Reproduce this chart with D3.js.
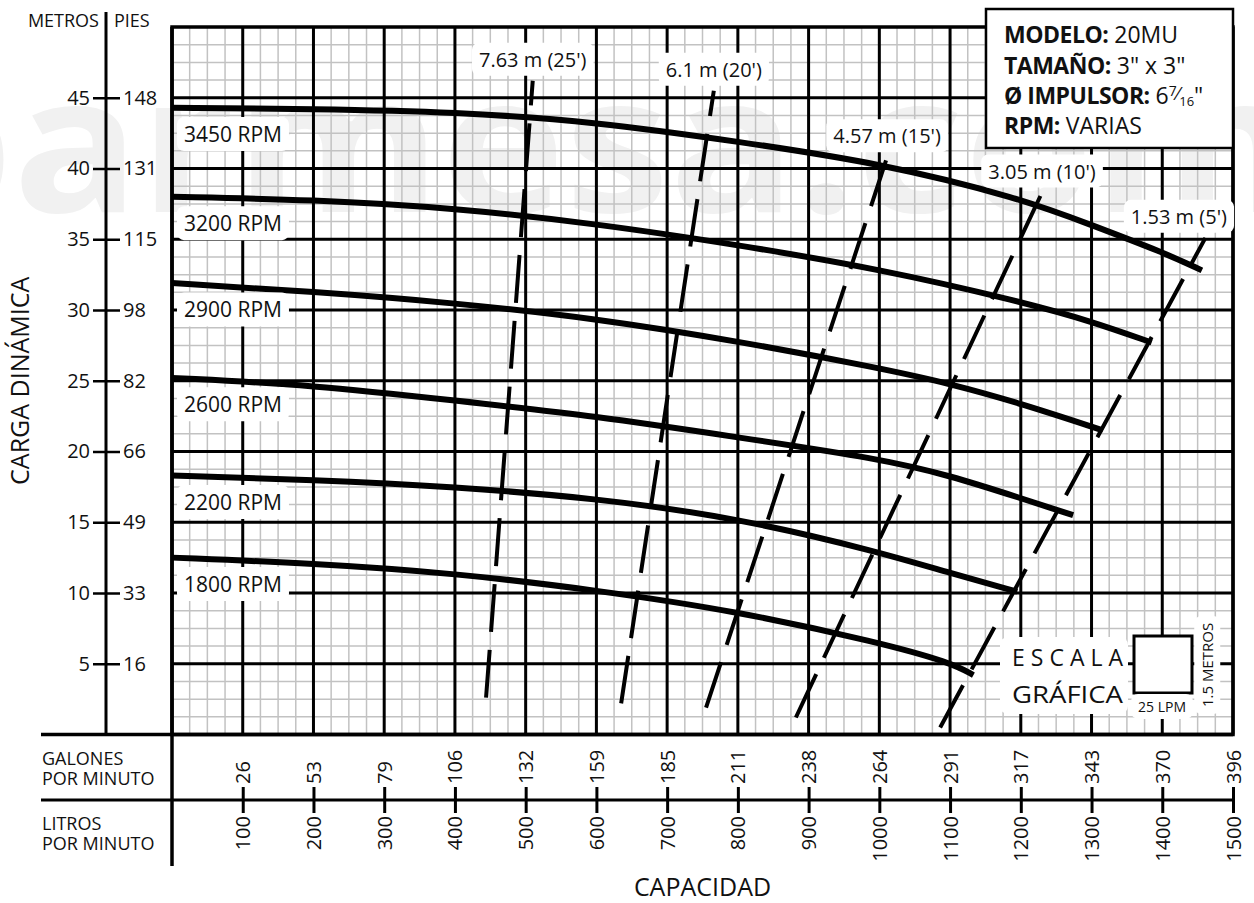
<!DOCTYPE html>
<html>
<head>
<meta charset="utf-8">
<script src="https://cdn.jsdelivr.net/npm/d3@7"></script>
<style>
  body { margin: 0; background: #fff; }
  text { font-family: "Open Sans", sans-serif; fill: #111; }
</style>
</head>
<body>
<svg id="chart" width="1254" height="903"></svg>
<script>
// ---- data ----
var lpmTicks = [100, 200, 300, 400, 500, 600, 700, 800, 900, 1000, 1100, 1200, 1300, 1400, 1500]
var gpmLabels = [26, 53, 79, 106, 132, 159, 185, 211, 238, 264, 291, 317, 343, 370, 396]
var metrosTicks = [5, 10, 15, 20, 25, 30, 35, 40, 45]
var piesLabels = [16, 33, 49, 66, 82, 98, 115, 131, 148]

var rpmNames = ["3450 RPM", "3200 RPM", "2900 RPM", "2600 RPM", "2200 RPM", "1800 RPM"]
// [litros por minuto, metros]
var rpm3450 = [[0, 44.3], [200, 44.2], [400, 44.0], [600, 43.3], [800, 41.9], [1000, 40.4], [1200, 37.9], [1300, 36.0], [1400, 34.1], [1456, 32.8]]
var rpm3200 = [[0, 38.0], [200, 37.8], [400, 37.2], [600, 36.1], [800, 34.6], [1000, 32.9], [1200, 30.6], [1300, 29.2], [1385, 27.7]]
var rpm2900 = [[0, 31.9], [200, 31.3], [400, 30.5], [600, 29.4], [800, 27.8], [1000, 25.9], [1100, 24.8], [1200, 23.4], [1316, 21.5]]
var rpm2600 = [[0, 25.2], [200, 24.7], [400, 23.6], [600, 22.5], [800, 21.0], [1000, 19.5], [1100, 18.3], [1200, 16.7], [1274, 15.5]]
var rpm2200 = [[0, 18.3], [200, 18.0], [400, 17.5], [600, 16.7], [800, 15.3], [1000, 12.9], [1100, 11.4], [1195, 10.1]]
var rpm1800 = [[0, 12.5], [200, 12.1], [400, 11.4], [600, 10.2], [800, 8.7], [1000, 6.5], [1100, 5.1], [1133, 4.2]]
var rpmCurves = [rpm3450, rpm3200, rpm2900, rpm2600, rpm2200, rpm1800]

var npshNames = ["7.63 m (25')", "6.1 m (20')", "4.57 m (15')", "3.05 m (10')", "1.53 m (5')"]
// each line: [bottom point, top point]
var npshLines = [
    [[444, 2.6], [510, 46.2]],
    [[635, 2.2], [766, 45.5]],
    [[755, 1.9], [1011, 40.8]],
    [[882, 1.2], [1230, 38.3]],
    [[1086, 0.5], [1461, 35.1]]
]

// ---- layout ----
var svg = d3.select("#chart")
var plotLeft = 172, plotRight = 1233, plotTop = 27, plotBottom = 734.5
var axisX = 106      // metros | pies line
var rowY = 800       // galones / litros divider

var xScale = d3.scaleLinear().domain([0, 1500]).range([plotLeft, plotRight])
var yScale = d3.scaleLinear().domain([0, 50]).range([plotBottom, plotTop])

// faint watermark behind everything
svg.append("text")
    .attr("x", -120).attr("y", 212)
    .attr("textLength", 1420)
    .attr("lengthAdjust", "spacingAndGlyphs")
    .style("font-size", "190px").style("font-weight", 700)
    .style("fill", "#f1f1f1")
    .text("barmesa.com")

// minor grid
var minorX = d3.range(0, 1501, 25)
var minorY = d3.range(0, 50.01, 1.25)
var grid = svg.append("g")
grid.selectAll(".minX").data(minorX).enter().append("line")
    .attr("x1", d => xScale(d)).attr("x2", d => xScale(d))
    .attr("y1", plotTop).attr("y2", plotBottom)
    .attr("stroke", "#c2c2c2").attr("stroke-width", 1.5)
grid.selectAll(".minY").data(minorY).enter().append("line")
    .attr("x1", plotLeft).attr("x2", plotRight)
    .attr("y1", d => yScale(d)).attr("y2", d => yScale(d))
    .attr("stroke", "#c2c2c2").attr("stroke-width", 1.5)

// major grid
grid.selectAll(".majX").data(lpmTicks).enter().append("line")
    .attr("x1", d => xScale(d)).attr("x2", d => xScale(d))
    .attr("y1", plotTop).attr("y2", plotBottom)
    .attr("stroke", "#000").attr("stroke-width", 3)
grid.selectAll(".majY").data(metrosTicks).enter().append("line")
    .attr("x1", plotLeft).attr("x2", plotRight)
    .attr("y1", d => yScale(d)).attr("y2", d => yScale(d))
    .attr("stroke", "#000").attr("stroke-width", 3)

// border of the plot
svg.append("rect")
    .attr("x", plotLeft).attr("y", plotTop)
    .attr("width", plotRight - plotLeft).attr("height", plotBottom - plotTop)
    .attr("fill", "none").attr("stroke", "#000").attr("stroke-width", 3.5)

// frame lines of the bottom table
svg.append("line").attr("x1", 41).attr("x2", plotRight).attr("y1", plotBottom).attr("y2", plotBottom)
    .attr("stroke", "#000").attr("stroke-width", 3.5)
svg.append("line").attr("x1", 41).attr("x2", plotRight).attr("y1", rowY).attr("y2", rowY)
    .attr("stroke", "#000").attr("stroke-width", 3)
svg.append("line").attr("x1", plotLeft).attr("x2", plotLeft).attr("y1", plotTop).attr("y2", 866)
    .attr("stroke", "#000").attr("stroke-width", 3.5)

// ---- NPSH dashed lines ----
var lineGen = d3.line().x(d => xScale(d[0])).y(d => yScale(d[1]))
svg.append("g").selectAll("path").data(npshLines).enter().append("path")
    .attr("d", lineGen)
    .attr("fill", "none").attr("stroke", "#000")
    .attr("stroke-width", 4).attr("stroke-dasharray", "48 18")

// ---- RPM curves ----
var curveGen = d3.line().x(d => xScale(d[0])).y(d => yScale(d[1])).curve(d3.curveBasis)
svg.append("g").selectAll("path").data(rpmCurves).enter().append("path")
    .attr("d", curveGen)
    .attr("fill", "none").attr("stroke", "#000").attr("stroke-width", 6)

// label with a white box behind it
function boxedLabel(parent, x, y, txt, size, anchor) {
    var g = parent.append("g")
    var r = g.append("rect").attr("fill", "#fff").attr("rx", 7)
    var t = g.append("text")
        .attr("x", x).attr("y", y)
        .attr("dy", "0.35em")
        .attr("text-anchor", anchor || "start")
        .style("font-size", size + "px")
        .text(txt)
    var b = t.node().getBBox()
    r.attr("x", b.x - 7).attr("y", b.y - 3).attr("width", b.width + 14).attr("height", b.height + 6)
    return t
}

var labels = svg.append("g")
rpmCurves.forEach((c, i) => {
    boxedLabel(labels, plotLeft + 12, yScale(c[0][1]) + 27, rpmNames[i], 21)
})
npshLines.forEach((l, i) => {
    var tx = xScale(l[1][0]), ty = yScale(l[1][1]) - 21
    var t = boxedLabel(labels, tx, ty, npshNames[i], 20, "middle")
    var w = t.node().getBBox().width
    if (tx + w / 2 > plotRight - 6) {
        t.attr("x", plotRight - 6 - w / 2)
        var b = t.node().getBBox()
        d3.select(t.node().previousSibling).attr("x", b.x - 7)
    }
})

// ---- left axis: metros | pies ----
svg.append("line").attr("x1", axisX).attr("x2", axisX).attr("y1", 12).attr("y2", plotBottom)
    .attr("stroke", "#000").attr("stroke-width", 3)

var metrosAxis = d3.axisLeft(yScale).tickValues(metrosTicks).tickSize(13).tickSizeOuter(0).tickPadding(3)
var gm = svg.append("g").attr("transform", `translate(${axisX},0)`).call(metrosAxis)
var piesAxis = d3.axisRight(yScale).tickValues(metrosTicks).tickSize(14).tickSizeOuter(0).tickPadding(3)
    .tickFormat((d, i) => piesLabels[i])
var gp = svg.append("g").attr("transform", `translate(${axisX},0)`).call(piesAxis)
;[gm, gp].forEach(g => {
    g.select(".domain").remove()
    g.selectAll(".tick line").attr("stroke", "#000").attr("stroke-width", 2.5)
    g.selectAll(".tick text").style("font-size", "20px").style("font-family", "'Open Sans', sans-serif").attr("fill", "#111")
})

svg.append("text").attr("x", 99).attr("y", 27).attr("text-anchor", "end")
    .style("font-size", "18px").text("METROS")
svg.append("text").attr("x", 114).attr("y", 27)
    .style("font-size", "18px").text("PIES")

// ---- bottom axes: galones / litros ----
var gpmAxis = d3.axisTop(xScale).tickValues(lpmTicks).tickSize(13).tickSizeOuter(0)
    .tickFormat((d, i) => gpmLabels[i])
var gg = svg.append("g").attr("transform", `translate(0,${rowY})`).call(gpmAxis)
gg.selectAll(".tick text")
    .attr("transform", "rotate(-90)")
    .attr("x", 16).attr("y", 0).attr("dy", "0.35em")
    .attr("text-anchor", "start")

var lpmAxis = d3.axisBottom(xScale).tickValues(lpmTicks).tickSize(13).tickSizeOuter(0)
    .tickFormat(d3.format("d"))
var gl = svg.append("g").attr("transform", `translate(0,${rowY})`).call(lpmAxis)
gl.selectAll(".tick text")
    .attr("transform", "rotate(-90)")
    .attr("x", -16).attr("y", 0).attr("dy", "0.35em")
    .attr("text-anchor", "end")
;[gg, gl].forEach(g => {
    g.select(".domain").remove()
    g.selectAll(".tick line").attr("stroke", "#000").attr("stroke-width", 3)
    g.selectAll(".tick text").style("font-size", "20px").style("font-family", "'Open Sans', sans-serif").attr("fill", "#111")
})

var rowLabels = [["GALONES", 765], ["POR MINUTO", 785], ["LITROS", 830], ["POR MINUTO", 850]]
svg.selectAll(".rowlab").data(rowLabels).enter().append("text")
    .attr("x", 42).attr("y", d => d[1])
    .style("font-size", "18px")
    .text(d => d[0])

// axis titles
svg.append("text")
    .attr("x", (plotLeft + plotRight) / 2).attr("y", 896)
    .attr("text-anchor", "middle")
    .style("font-size", "25px")
    .text("CAPACIDAD")
svg.append("text")
    .attr("transform", `translate(29,${(plotTop + plotBottom) / 2}) rotate(-90)`)
    .attr("text-anchor", "middle")
    .style("font-size", "25px")
    .text("CARGA DINÁMICA")

// ---- info box ----
var info = svg.append("g")
info.append("rect").attr("x", 986).attr("y", 9).attr("width", plotRight - 986).attr("height", 139)
    .attr("fill", "#fff").attr("stroke", "#000").attr("stroke-width", 2.5)
var infoRows = [["MODELO:", " 20MU", 43], ["TAMAÑO:", " 3\" x 3\"", 74], ["Ø IMPULSOR:", " 6", 104], ["RPM:", " VARIAS", 134]]
infoRows.forEach(r => {
    var t = info.append("text").attr("x", 1004).attr("y", r[2]).style("font-size", "23px")
    t.append("tspan").style("font-weight", 700).attr("letter-spacing", "-0.5").text(r[0])
    t.append("tspan").text(r[1])
    if (r[0] == "Ø IMPULSOR:") {
        t.append("tspan").style("font-size", "14px").attr("dy", -8).text("7")
        t.append("tspan").style("font-size", "19px").attr("dy", 4).text("⁄")
        t.append("tspan").style("font-size", "13px").attr("dy", 6).text("16")
        t.append("tspan").attr("dy", -2).text("\"")
    }
})

// ---- escala grafica ----
var esc = svg.append("g")
esc.append("rect").attr("x", 1000).attr("y", 637).attr("width", 128).attr("height", 77)
    .attr("rx", 8).attr("fill", "#fff")
esc.append("text").attr("x", 1012).attr("y", 666)
    .attr("textLength", 111).attr("lengthAdjust", "spacing")
    .style("font-size", "23px").text("ESCALA")
esc.append("text").attr("x", 1012).attr("y", 703)
    .attr("textLength", 111).attr("lengthAdjust", "spacingAndGlyphs")
    .style("font-size", "24px").text("GRÁFICA")
esc.append("rect").attr("x", 1134).attr("y", 636).attr("width", 58).attr("height", 57)
    .attr("fill", "#fff").attr("stroke", "#000").attr("stroke-width", 3)
boxedLabel(esc, 1162, 707, "25 LPM", 14, "middle")
var mg = esc.append("g").attr("transform", "translate(1208,665) rotate(-90)")
boxedLabel(mg, 0, 0, "1.5 METROS", 15, "middle")
</script>
</body>
</html>
